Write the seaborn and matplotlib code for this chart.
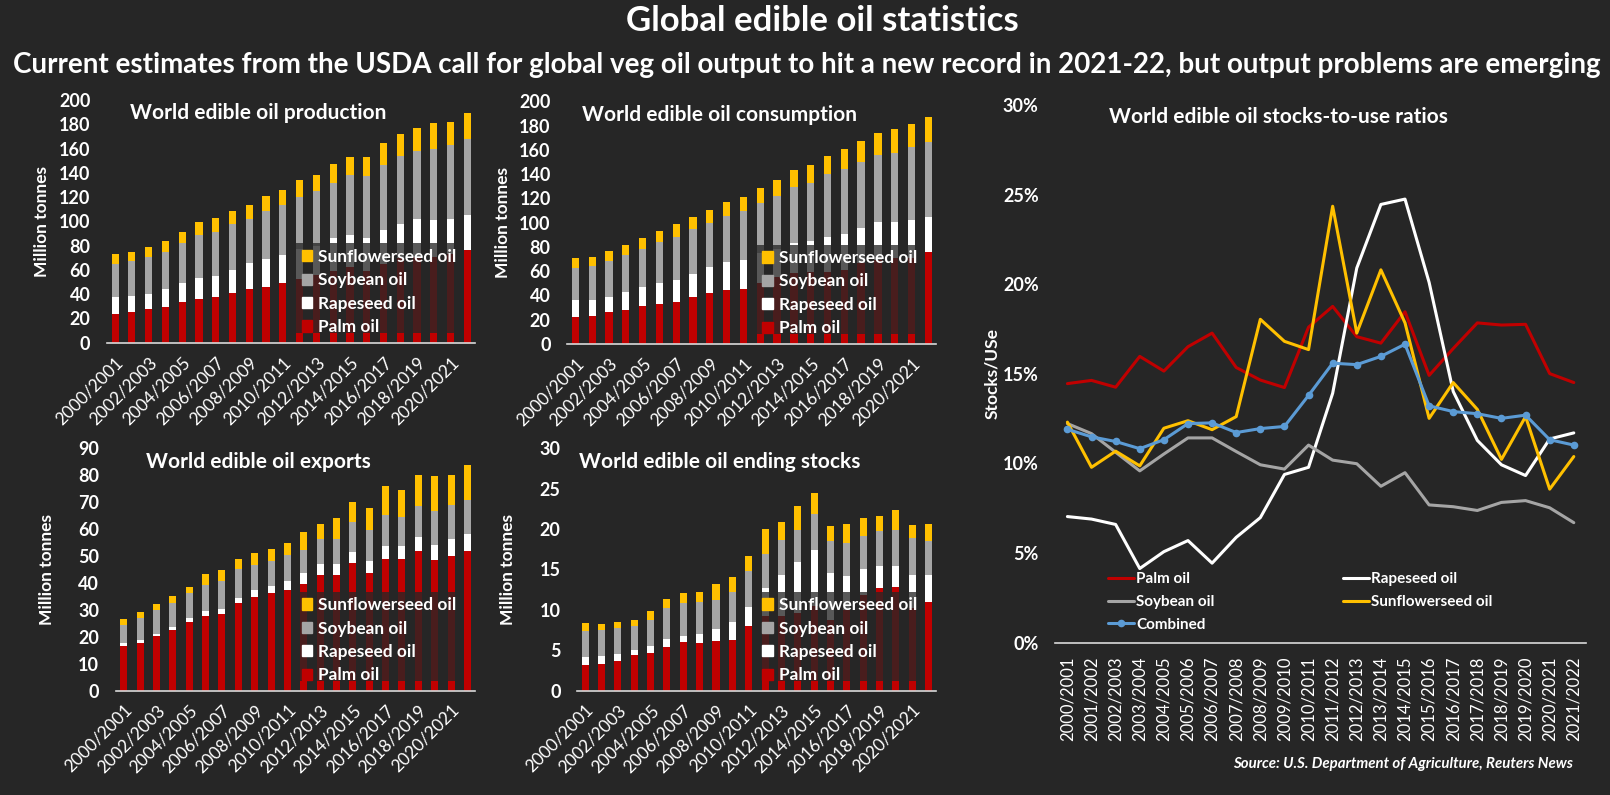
import numpy as np
import matplotlib.pyplot as plt
import seaborn as sns
from matplotlib.patches import Patch, Rectangle
from matplotlib.lines import Line2D
from matplotlib.ticker import FuncFormatter

# marketing years
seasons = ['2000/2001', '2001/2002', '2002/2003', '2003/2004', '2004/2005', '2005/2006',
           '2006/2007', '2007/2008', '2008/2009', '2009/2010', '2010/2011', '2011/2012',
           '2012/2013', '2013/2014', '2014/2015', '2015/2016', '2016/2017', '2017/2018',
           '2018/2019', '2019/2020', '2020/2021', '2021/2022']

# million tonnes
prod_palm = [23.6, 25.3, 27.7, 29.4, 33.5, 36.0, 37.6, 40.9, 44.2, 45.9, 49.2, 52.3, 56.0, 59.5, 62.0, 59.0, 65.0, 69.5, 71.0, 71.0, 73.0, 76.4]
prod_rape = [14.0, 13.2, 12.4, 14.8, 15.7, 17.3, 17.3, 19.0, 21.5, 23.1, 23.1, 24.7, 24.0, 26.8, 26.7, 27.3, 27.9, 28.3, 30.9, 30.1, 28.9, 28.8]
prod_soy = [27.2, 29.1, 30.5, 30.5, 32.9, 35.4, 36.3, 37.9, 36.2, 39.5, 41.2, 43.1, 45.0, 45.3, 49.5, 51.1, 53.5, 56.0, 56.1, 58.5, 61.0, 62.7]
prod_sun = [8.3, 7.1, 8.2, 9.1, 9.1, 10.8, 11.5, 10.7, 11.6, 12.4, 12.3, 14.0, 13.2, 15.7, 14.8, 15.6, 18.2, 18.2, 18.9, 21.4, 19.0, 21.4]

cons_palm = [22.3, 23.1, 26.4, 28.0, 31.3, 33.0, 34.6, 38.7, 42.0, 44.5, 45.3, 50.3, 55.2, 58.2, 59.6, 59.6, 61.0, 66.8, 69.2, 70.6, 70.6, 75.8]
cons_rape = [14.0, 13.2, 12.3, 14.9, 15.7, 17.3, 18.1, 19.0, 21.5, 23.1, 23.9, 24.7, 22.8, 25.0, 25.3, 28.6, 29.7, 28.8, 31.3, 29.9, 31.6, 28.9]
cons_soy = [26.3, 28.0, 29.7, 30.5, 31.3, 33.8, 35.5, 37.1, 36.2, 37.9, 40.4, 41.2, 44.0, 46.2, 47.8, 51.9, 53.5, 54.4, 55.3, 56.9, 60.2, 61.8]
cons_sun = [8.3, 7.4, 8.2, 8.2, 9.1, 9.0, 10.7, 9.9, 10.7, 11.5, 11.6, 12.4, 13.2, 14.0, 14.8, 14.8, 16.5, 17.3, 18.1, 19.8, 18.9, 20.6]

exp_palm = [16.7, 17.8, 20.4, 22.6, 25.6, 27.8, 28.6, 32.6, 34.9, 36.3, 37.5, 39.7, 43.0, 43.0, 47.5, 43.8, 48.9, 48.9, 51.9, 48.6, 50.1, 51.9]
exp_rape = [1.1, 1.1, 0.7, 1.1, 1.5, 1.9, 1.8, 1.9, 2.6, 2.6, 3.3, 4.1, 4.1, 4.1, 4.0, 4.4, 4.9, 4.9, 5.2, 5.5, 6.3, 6.3]
exp_soy = [6.7, 8.2, 8.9, 8.9, 9.2, 9.6, 10.4, 10.7, 9.2, 9.3, 9.6, 8.5, 9.3, 9.3, 11.2, 11.5, 11.5, 10.7, 11.5, 12.6, 12.6, 12.6]
exp_sun = [2.2, 2.2, 2.3, 2.6, 2.3, 4.1, 4.1, 3.8, 4.5, 4.5, 4.5, 6.7, 5.5, 7.8, 7.4, 8.2, 10.7, 10.0, 11.5, 13.0, 11.1, 13.0]

stk_palm = [3.14, 3.26, 3.64, 4.38, 4.63, 5.37, 5.99, 5.87, 6.12, 6.24, 7.98, 9.3, 9.3, 9.6, 10.5, 8.8, 10.0, 11.8, 12.7, 12.8, 10.2, 10.95]
stk_rape = [0.99, 1.0, 0.86, 0.62, 0.87, 0.99, 0.75, 1.11, 1.48, 2.23, 2.35, 3.39, 5.0, 6.31, 6.9, 5.75, 4.17, 3.24, 2.71, 2.61, 4.1, 3.35]
stk_soy = [3.23, 3.22, 3.23, 2.98, 3.22, 3.84, 4.09, 3.97, 3.6, 3.72, 4.46, 4.21, 4.34, 3.97, 4.46, 3.96, 4.09, 4.09, 4.34, 4.47, 4.58, 4.21]
stk_sun = [0.99, 0.74, 0.74, 0.74, 1.11, 1.12, 1.24, 1.24, 1.98, 1.86, 1.86, 3.1, 2.23, 2.97, 2.6, 1.86, 2.36, 2.23, 1.86, 2.48, 1.62, 2.11]

# stocks-to-use, percent
stu_palm = [14.45, 14.63, 14.25, 15.97, 15.15, 16.51, 17.27, 15.35, 14.65, 14.23, 17.6, 18.76, 17.07, 16.71, 18.46, 14.91, 16.41, 17.84, 17.72, 17.76, 15.01, 14.51]
stu_rape = [7.03, 6.89, 6.59, 4.13, 5.07, 5.69, 4.43, 5.87, 6.97, 9.38, 9.78, 13.91, 20.9, 24.45, 24.75, 20.1, 14.01, 11.28, 9.92, 9.32, 11.36, 11.7]
stu_soy = [12.22, 11.66, 10.62, 9.58, 10.52, 11.42, 11.42, 10.66, 9.92, 9.68, 11.02, 10.18, 9.98, 8.72, 9.48, 7.68, 7.58, 7.37, 7.82, 7.92, 7.52, 6.69]
stu_sun = [12.3, 9.78, 10.68, 9.86, 11.96, 12.38, 11.88, 12.61, 18.04, 16.81, 16.35, 24.35, 17.27, 20.8, 17.84, 12.51, 14.51, 13.01, 10.22, 12.61, 8.56, 10.38]
stu_comb = [11.9, 11.48, 11.22, 10.82, 11.32, 12.22, 12.26, 11.72, 11.94, 12.06, 13.79, 15.59, 15.51, 15.97, 16.65, 13.21, 12.89, 12.77, 12.51, 12.69, 11.32, 11.02]

BG = '#262626'
PALM = '#C00000'
RAPE = '#FFFFFF'
SOY = '#A5A5A5'
SUN = '#FFC000'
COMB = '#5B9BD5'
AXIS = '#D9D9D9'

sns.set_theme(style='dark', rc={'figure.facecolor': BG, 'axes.facecolor': BG,
                                'savefig.facecolor': BG, 'text.color': 'white',
                                'axes.labelcolor': 'white', 'xtick.color': 'white',
                                'ytick.color': 'white', 'axes.grid': False})
plt.rcParams['font.family'] = ['Lato', 'DejaVu Sans']

fig = plt.figure(figsize=(16.1, 7.95), dpi=100)


def style_axis(ax):
    for side in ['top', 'right', 'left']:
        ax.spines[side].set_visible(False)
    ax.spines['bottom'].set_color(AXIS)
    ax.spines['bottom'].set_linewidth(1.2)
    ax.tick_params(length=0)
    for lab in ax.get_yticklabels():
        lab.set_fontweight('bold')


def stacked_panel(rect, title, palm, rape, soy, sun, ymax, ystep, title_x, ylab_x, dim_box, leg_xy):
    ax = fig.add_axes(rect)
    tops = np.cumsum([palm, rape, soy, sun], axis=0)
    # tallest layer first, each one painted over the previous
    for top, col in zip(tops[::-1], [SUN, SOY, RAPE, PALM]):
        sns.barplot(x=seasons, y=top, color=col, saturation=1, width=0.43,
                    linewidth=0, errorbar=None, ax=ax)
    ax.set_xlim(-0.48, 21.46)
    ax.set_ylim(0, ymax)
    ax.set_yticks(np.arange(0, ymax + 1, ystep))
    ax.tick_params(axis='y', labelsize=13, pad=12)
    ax.set_xticks(range(0, len(seasons), 2))
    ax.set_xticklabels(seasons[::2], rotation=45, ha='right', rotation_mode='anchor', fontsize=12.5)
    ax.tick_params(axis='x', pad=8)
    style_axis(ax)
    ax.set_ylabel('Million tonnes', fontsize=12.5, fontweight='bold')
    ax.yaxis.set_label_coords(ylab_x, 0.5)
    ax.text(title_x, 0.945, title, transform=ax.transAxes, ha='center', va='center',
            fontsize=15, fontweight='bold', color='white')
    # the legend box in the original is a semi-opaque panel over the bars
    x0, y0, x1, y1 = dim_box
    ax.add_patch(Rectangle((x0, y0), x1 - x0, y1 - y0, transform=ax.transAxes,
                           facecolor=BG, alpha=0.77, edgecolor='none', zorder=4))
    handles = [Patch(color=c) for c in [SUN, SOY, RAPE, PALM]]
    labels = ['Sunflowerseed oil', 'Soybean oil', 'Rapeseed oil', 'Palm oil']
    leg = ax.legend(handles, labels, loc='upper left', bbox_to_anchor=leg_xy, frameon=False,
                    borderpad=0, borderaxespad=0, handlelength=0.62, handleheight=0.62,
                    handletextpad=0.35, labelspacing=0.43,
                    prop={'weight': 'bold', 'size': 12.4})
    leg.set_zorder(5)
    for t in leg.get_texts():
        t.set_color('white')
    return ax


stacked_panel([0.0665, 0.5689, 0.2286, 0.3053], 'World edible oil production',
              prod_palm, prod_rape, prod_soy, prod_sun, 200, 20, 0.41, -0.155,
              (0.497, 0.039, 0.957, 0.41), (0.529, 0.387))
stacked_panel([0.3524, 0.5673, 0.2290, 0.3053], 'World edible oil consumption',
              cons_palm, cons_rape, cons_soy, cons_sun, 200, 20, 0.413, -0.152,
              (0.506, 0.04, 0.957, 0.408), (0.528, 0.387))
stacked_panel([0.0720, 0.1312, 0.2230, 0.3049], 'World edible oil exports',
              exp_palm, exp_rape, exp_soy, exp_sun, 90, 10, 0.398, -0.17,
              (0.487, 0.041, 0.955, 0.408), (0.517, 0.386))
stacked_panel([0.3586, 0.1312, 0.2228, 0.3049], 'World edible oil ending stocks',
              stk_palm, stk_rape, stk_soy, stk_sun, 30, 5, 0.396, -0.172,
              (0.493, 0.041, 0.955, 0.408), (0.515, 0.386))

# stocks-to-use line chart
ax = fig.add_axes([0.6555, 0.1918, 0.3295, 0.6761])
xpos = np.arange(len(seasons))
series = [('Palm oil', stu_palm, PALM), ('Rapeseed oil', stu_rape, RAPE),
          ('Soybean oil', stu_soy, SOY), ('Sunflowerseed oil', stu_sun, SUN)]
for name, vals, col in series:
    sns.lineplot(x=xpos, y=vals, color=col, linewidth=2.2, ax=ax)
sns.lineplot(x=xpos, y=stu_comb, color=COMB, linewidth=2.2, marker='o', markersize=5.5,
             markeredgewidth=0, ax=ax)
ax.set_xlim(-0.5, 21.5)
ax.set_ylim(0, 30)
ax.set_yticks(range(0, 31, 5))
ax.yaxis.set_major_formatter(FuncFormatter(lambda v, p: f'{v:.0f}%'))
ax.set_xticks(xpos)
ax.set_xticklabels(seasons, rotation=90, fontsize=12)
ax.tick_params(axis='x', pad=10)
ax.tick_params(axis='y', labelsize=13, pad=12)
style_axis(ax)
ax.set_ylabel('Stocks/USe', fontsize=12.5, fontweight='bold')
ax.yaxis.set_label_coords(-0.105, 0.5)
ax.text(0.421, 0.978, 'World edible oil stocks-to-use ratios', transform=ax.transAxes,
        ha='center', va='center', fontsize=15, fontweight='bold', color='white')

lh = [Line2D([], [], color=PALM, lw=2.2), Line2D([], [], color=SOY, lw=2.2),
      Line2D([], [], color=COMB, lw=2.2, marker='o', markersize=5.5, markeredgewidth=0),
      Line2D([], [], color=RAPE, lw=2.2), Line2D([], [], color=SUN, lw=2.2)]
ll = ['Palm oil', 'Soybean oil', 'Combined', 'Rapeseed oil', 'Sunflowerseed oil']
leg = ax.legend(lh, ll, ncol=2, loc='upper left', bbox_to_anchor=(0.099, 0.131), frameon=False,
                borderpad=0, borderaxespad=0, handlelength=1.7, handletextpad=0.15,
                labelspacing=0.58, columnspacing=8.4, prop={'weight': 'bold', 'size': 11})
for t in leg.get_texts():
    t.set_color('white')

fig.text(0.5106, 1 - 21 / 795, 'Global edible oil statistics', ha='center', va='center',
         fontsize=25, fontweight='bold', color='white')
fig.text(0.5012, 1 - 65 / 795,
         'Current estimates from the USDA call for global veg oil output to hit a new record in 2021-22, '
         'but output problems are emerging',
         ha='center', va='center', fontsize=20, fontweight='bold', color='white')
fig.text(1573 / 1610, 1 - 764 / 795, 'Source: U.S. Department of Agriculture, Reuters News',
         ha='right', va='center', fontsize=10.8, fontweight='bold', style='italic', color='white')

fig.savefig('out.png', dpi=100, facecolor=BG)
